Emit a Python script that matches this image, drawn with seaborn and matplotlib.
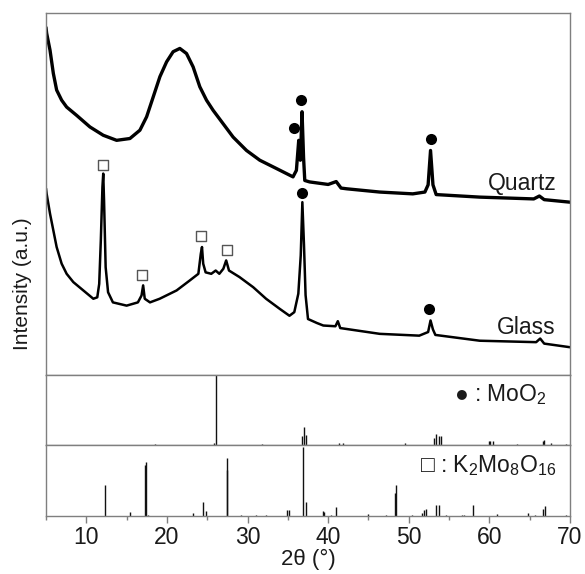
import matplotlib
matplotlib.use("Agg")
import matplotlib.pyplot as plt
import seaborn as sns
from matplotlib.ticker import MultipleLocator

# XRD pattern, sample on quartz (upper trace), offset units 0..100 of the top panel
quartz_2theta = [5.0, 5.08, 5.5, 5.91, 6.32, 6.94, 7.56, 8.8, 10.45, 12.1, 13.76,
                 15.41, 16.65, 17.48, 18.3, 19.13, 19.96, 20.77, 21.6, 22.43,
                 23.25, 24.08, 24.91, 25.73, 26.97, 28.21, 29.87, 31.52, 33.59,
                 35.64, 36.06, 36.35, 36.55, 36.76, 36.95, 37.1, 37.7, 40.0, 41.0,
                 41.6, 42.3, 46.4, 50.5, 52.0, 52.4, 52.7, 53.0, 53.4, 58.8, 65.5,
                 66.2, 66.8, 70.0]
quartz_int = [96.0, 94.4, 89.7, 83.3, 78.7, 75.9, 74.0, 71.7, 68.5, 66.2, 64.8,
              65.3, 67.6, 71.3, 76.8, 82.4, 86.5, 89.3, 90.2, 88.8,
              85.1, 79.6, 75.9, 73.1, 69.4, 65.7, 62.0, 59.3, 57.0,
              54.7, 56.5, 64.8, 59.3, 72.7, 60.0, 53.7, 53.3, 52.6, 53.4,
              51.6, 51.4, 50.5, 50.0, 50.5, 52.5, 62.0, 52.5, 49.8, 49.1, 48.6,
              49.4, 48.4, 47.7]

# sample on glass (lower trace)
glass_2theta = [5.0, 5.08, 5.5, 5.91, 6.32, 6.94, 7.56, 8.39, 9.63, 10.87, 11.36,
                11.6, 11.8, 12.0, 12.1, 12.2, 12.4, 12.7, 13.3, 15.0, 16.4, 16.85,
                17.05, 17.25, 17.9, 19.1, 21.2, 22.8, 23.9, 24.2, 24.35, 24.5, 24.8,
                25.5, 26.05, 26.5, 27.0, 27.35, 27.7, 29.0, 30.7, 32.3, 34.0, 35.2,
                35.8, 36.3, 36.6, 36.8, 37.0, 37.2, 37.5, 38.6, 39.4, 40.9, 41.2,
                41.5, 46.4, 51.3, 52.4, 52.7, 53.0, 53.3, 58.8, 65.8, 66.3, 66.8, 70.0]
glass_int = [51.5, 50.0, 44.5, 39.9, 35.3, 30.7, 27.9, 25.6, 23.3, 21.0, 21.4,
             25.1, 37.1, 51.9, 55.6, 48.2, 29.7, 22.8, 20.0, 19.1, 20.0, 21.9,
             24.7, 21.0, 20.0, 21.0, 23.3, 26.0, 27.9, 33.4, 35.3, 30.7, 28.3,
             27.9, 28.8, 27.9, 29.3, 31.6, 28.8, 27.0, 24.2, 21.0, 18.2, 16.3,
             17.3, 22.4, 33.0, 47.7, 36.0, 22.0, 15.4, 14.3, 13.6, 13.4, 14.8,
             12.9, 11.3, 10.8, 11.8, 15.0, 12.5, 11.0, 9.4, 9.0, 10.0, 8.6, 7.6]

# phase markers on the traces
moo2_mark_x = [35.77, 36.6, 52.7, 36.76, 52.5]
moo2_mark_y = [68.3, 75.9, 65.3, 50.2, 18.2]
k2mo_mark_x = [12.1, 16.95, 24.25, 27.4]
k2mo_mark_y = [57.9, 27.7, 38.4, 34.5]

# reference patterns (relative intensity)
moo2_pos = [18.5, 25.9, 26.03, 31.8, 36.76, 37.0, 37.3, 41.35, 41.85, 49.5,
            53.1, 53.4, 53.7, 54.0, 59.9, 60.1, 60.4, 63.4, 66.6, 66.8, 67.6, 69.5]
moo2_rel = [0.01, 0.03, 0.99, 0.015, 0.12, 0.26, 0.14, 0.02, 0.02, 0.02,
            0.1, 0.16, 0.12, 0.12, 0.05, 0.06, 0.06, 0.01, 0.06, 0.07, 0.03, 0.01]

k2mo_pos = [12.27, 15.4, 17.25, 17.35, 17.7, 23.25, 24.5, 24.9, 27.45, 27.5,
            29.2, 31.1, 32.3, 34.9, 35.15, 36.9, 37.2, 39.3, 39.45, 40.4, 41.0,
            44.95, 47.2, 48.25, 48.45, 50.4, 51.7, 51.9, 52.1, 53.4, 53.7,
            54.65, 56.55, 56.9, 58.0, 61.0, 64.8, 65.6, 66.7, 66.9, 69.5]
k2mo_rel = [0.43, 0.06, 0.72, 0.76, 0.02, 0.04, 0.19, 0.07, 0.65, 0.81,
            0.01, 0.01, 0.01, 0.09, 0.08, 0.97, 0.2, 0.07, 0.06, 0.02, 0.13,
            0.03, 0.01, 0.33, 0.44, 0.02, 0.04, 0.08, 0.1, 0.16, 0.16,
            0.01, 0.02, 0.02, 0.16, 0.03, 0.04, 0.02, 0.1, 0.14, 0.01]

sns.set_theme(style="white")
plt.rcParams["font.family"] = ["Liberation Sans", "DejaVu Sans"]
plt.rcParams["axes.edgecolor"] = "#7f7f7f"
plt.rcParams["axes.linewidth"] = 1.0

fs = 16.5
txt = "#1a1a1a"

fig = plt.figure(figsize=(5.85, 5.74), dpi=100)
gs = fig.add_gridspec(3, 1, height_ratios=[361, 70, 71], hspace=0,
                      left=46 / 585, right=570 / 585, top=1 - 13 / 574, bottom=1 - 516 / 574)
ax_top = fig.add_subplot(gs[0])
ax_mid = fig.add_subplot(gs[1], sharex=ax_top)
ax_bot = fig.add_subplot(gs[2], sharex=ax_top)

sns.lineplot(x=quartz_2theta, y=quartz_int, ax=ax_top, color="black", lw=2.4)
sns.lineplot(x=glass_2theta, y=glass_int, ax=ax_top, color="black", lw=1.8)
sns.scatterplot(x=moo2_mark_x, y=moo2_mark_y, ax=ax_top, color="black", s=64,
                marker="o", edgecolor="black", linewidth=0, zorder=5)
sns.scatterplot(x=k2mo_mark_x, y=k2mo_mark_y, ax=ax_top, s=55, marker="s",
                facecolor="white", edgecolor="#555555", linewidth=1.0, zorder=5)
ax_top.text(68.3, 51.0, "Quartz", ha="right", va="baseline", fontsize=fs, color=txt)
ax_top.text(68.2, 11.3, "Glass", ha="right", va="baseline", fontsize=fs, color=txt)
ax_top.set_ylim(0, 100)

ax_mid.vlines(moo2_pos, 0, moo2_rel, color="#111111", lw=1.0)
ax_mid.set_ylim(0, 1.0)
ax_mid.text(0.955, 0.63, "\u25cf : MoO$\\mathregular{_2}$", transform=ax_mid.transAxes,
            ha="right", va="baseline", fontsize=fs, color=txt)

ax_bot.vlines(k2mo_pos, 0, k2mo_rel, color="#111111", lw=1.0)
ax_bot.set_ylim(0, 1.0)
ax_bot.text(0.975, 0.62, "\u25a1 : K$\\mathregular{_2}$Mo$\\mathregular{_8}$O$\\mathregular{_{16}}$",
            transform=ax_bot.transAxes, ha="right", va="baseline", fontsize=fs, color=txt)

for ax in (ax_top, ax_mid, ax_bot):
    ax.set_yticks([])
    ax.set_ylabel("")
    ax.tick_params(axis="x", which="both", bottom=False, labelbottom=False)

ax_bot.set_xlim(5, 70)
ax_bot.xaxis.set_major_locator(MultipleLocator(10))
ax_bot.xaxis.set_minor_locator(MultipleLocator(5))
ax_bot.tick_params(axis="x", which="major", bottom=True, labelbottom=True, direction="out",
                   length=5.3, width=1.0, color="#7f7f7f", labelsize=fs,
                   labelcolor=txt, pad=2)
ax_bot.tick_params(axis="x", which="minor", bottom=True, direction="out",
                   length=2.8, width=1.0, color="#7f7f7f")
ax_bot.set_xlabel("2\u03b8 (\u00b0)", fontsize=16, color=txt, labelpad=0)

fig.text(23 / 585, 1 - 284 / 574, "Intensity (a.u.)", rotation=90, ha="center",
         va="center", fontsize=15, color=txt)

fig.savefig("out.png", dpi=100)
